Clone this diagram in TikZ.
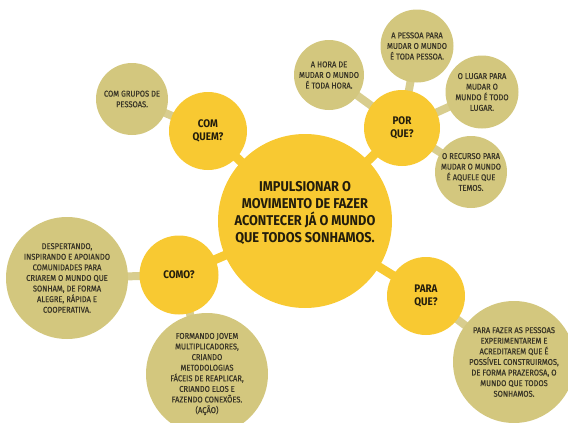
\documentclass[tikz,border=0pt]{standalone}
\usepackage{fontspec}
\setmainfont{Fira Sans}
\newfontfamily\cf[FakeStretch=0.9]{Fira Sans}
\newfontfamily\cfl[FakeStretch=0.9, FakeBold=0.6]{Fira Sans}
\usetikzlibrary{backgrounds}
\definecolor{myyellow}{HTML}{F8C932}
\definecolor{myolive}{HTML}{D3C77E}
\definecolor{mybar}{HTML}{D8CD8E}
\definecolor{darktext}{HTML}{231D0C}
\definecolor{olivetext}{HTML}{3A3627}
\tikzset{
  hub/.style={circle, fill=myyellow, inner sep=0pt, align=center, text=darktext,
    font=\cf\bfseries\fontsize{11}{12.8}\selectfont},
  leaf/.style={circle, fill=myolive, inner sep=0pt, align=center, text=olivetext,
    font=\cfl\fontsize{8.4}{10.6}\selectfont},
  core/.style={circle, fill=myyellow, inner sep=0pt},
  coretext/.style={align=center, text=darktext, inner sep=0pt,
    font=\cf\bfseries\fontsize{14.2}{17}\selectfont},
  ybar/.style={line width=9pt, draw=myyellow},
  obar/.style={line width=8pt, draw=mybar}
}
\begin{document}
\begin{tikzpicture}[x=1pt,y=-1pt]
\useasboundingbox (0,0) rectangle (568,423);
\node[core, minimum size=174pt,
  label={[coretext, yshift=8pt]center:IMPULSIONAR O\\MOVIMENTO DE FAZER\\ACONTECER JÁ O MUNDO\\QUE TODOS SONHAMOS.}] (main) at (305,221) {};
\node[hub, minimum size=78pt] (quem) at (208,131) {COM\\QUEM?};
\node[leaf, minimum size=72pt] (grupos) at (132,99) {COM GRUPOS DE\\PESSOAS.};
\node[hub, minimum size=76pt] (porque) at (402,128) {POR\\QUE?};
\node[leaf, minimum size=70pt] (hora) at (329,75) {A HORA DE\\MUDAR O MUNDO\\É TODA HORA.};
\node[leaf, minimum size=73pt] (pessoa) at (417,46) {A PESSOA PARA\\MUDAR O MUNDO\\É TODA PESSOA.};
\node[leaf, minimum size=73pt] (lugar) at (482,92) {O LUGAR PARA\\MUDAR O\\MUNDO É TODO\\LUGAR.};
\node[leaf, minimum size=72pt] (recurso) at (471,172) {O RECURSO PARA\\MUDAR O MUNDO\\É AQUELE QUE\\TEMOS.};
\node[hub, minimum size=79pt] (como) at (179,275) {COMO?};
\node[leaf, minimum size=122pt] (desp) at (67,278) {DESPERTANDO,\\INSPIRANDO E APOIANDO\\COMUNIDADES PARA\\CRIAREM O MUNDO QUE\\SONHAM, DE FORMA\\ALEGRE, RÁPIDA E\\COOPERATIVA.};
\node[leaf, minimum size=122pt] (form) at (207,374) {FORMANDO JOVEM\\MULTIPLICADORES,\\CRIANDO\\METODOLOGIAS\\FÁCEIS DE REAPLICAR,\\CRIANDO ELOS E\\FAZENDO CONEXÕES.\\(AÇÃO)};
\node[hub, minimum size=78pt] (paraque) at (426,296) {PARA\\QUE?};
\node[leaf, minimum size=122pt] (fazer) at (514,362) {PARA FAZER AS PESSOAS\\EXPERIMENTAREM E\\ACREDITAREM QUE É\\POSSÍVEL CONSTRUIRMOS,\\DE FORMA PRAZEROSA, O\\MUNDO QUE TODOS\\SONHAMOS.};
\begin{scope}[on background layer]
\draw[ybar] (main.center) -- (quem.center);
\draw[ybar] (main.center) -- (porque.center);
\draw[ybar] (main.center) -- (como.center);
\draw[ybar] (main.center) -- (paraque.center);
\draw[obar] (quem.center) -- (grupos.center);
\draw[obar] (porque.center) -- (hora.center);
\draw[obar] (porque.center) -- (pessoa.center);
\draw[obar] (porque.center) -- (lugar.center);
\draw[obar] (porque.center) -- (recurso.center);
\draw[obar] (como.center) -- (desp.center);
\draw[obar] (como.center) -- (form.center);
\draw[obar] (paraque.center) -- (fazer.center);
\end{scope}
\end{tikzpicture}
\end{document}
